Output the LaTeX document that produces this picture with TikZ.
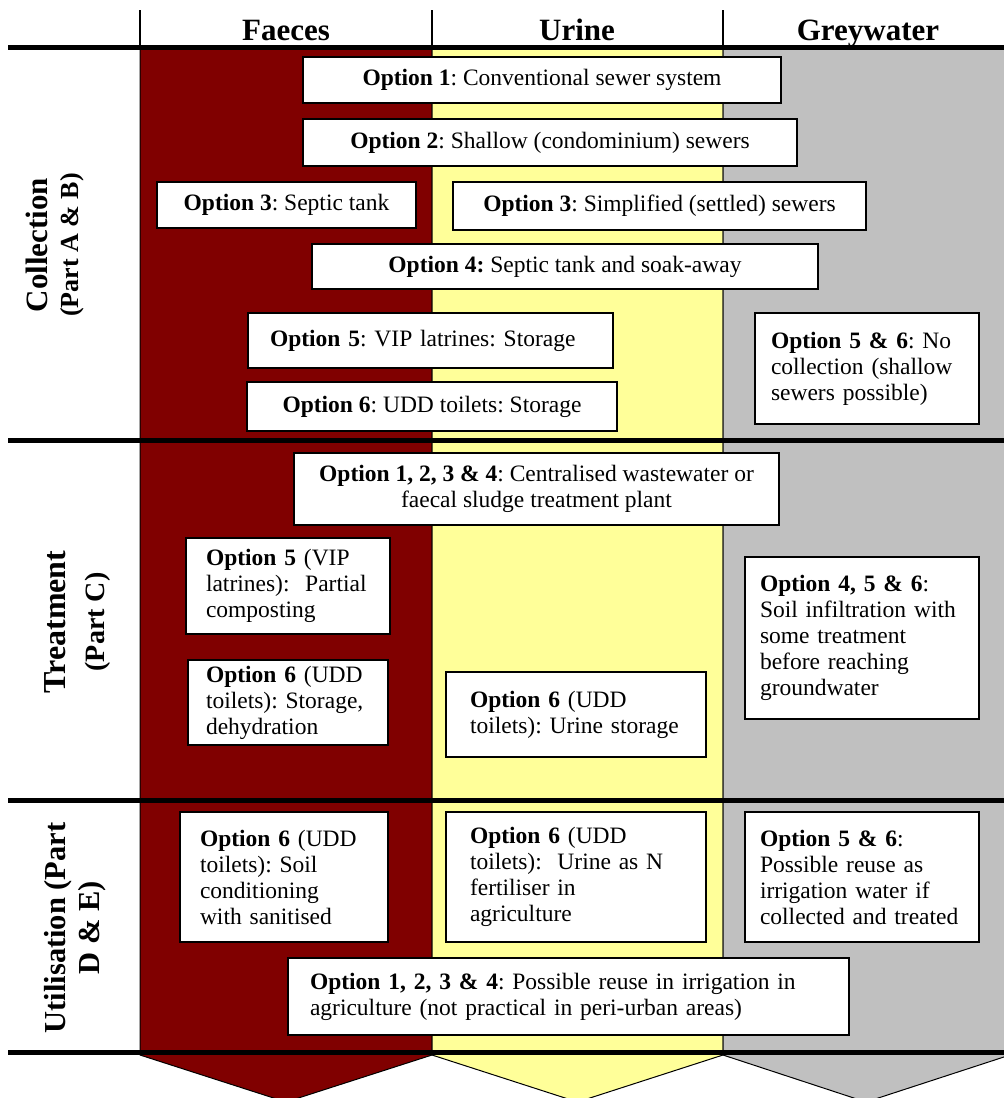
\documentclass[tikz,border=0pt]{standalone}
\usepackage{fontspec}
\setmainfont{Liberation Serif}
\usetikzlibrary{positioning}
\definecolor{faecol}{HTML}{800000}
\definecolor{urinecol}{HTML}{FFFF99}
\definecolor{greycol}{HTML}{C0C0C0}
\frenchspacing

\begin{document}
\begin{tikzpicture}[x=1pt,y=-1pt,
    optbox/.style={draw,line width=1.6pt,fill=white,inner sep=0pt,font=\fontsize{23.5}{26}\selectfont},
    lbox/.style={optbox,align=left},
    cbox/.style={optbox,align=center},
    stream/.style={draw=black,line width=1pt},
    sepline/.style={line width=5pt},
    head/.style={anchor=base,font=\fontsize{31}{34}\selectfont\bfseries},
    rowlab/.style={rotate=90,align=center}]
    \useasboundingbox (0,0) rectangle (1004,1098);
    \clip (0,0) rectangle (1004,1098);
    % streams
    \filldraw[stream,fill=faecol] (140,47) -- (432,47) -- (432,1055) -- (286,1102) -- (140,1055) -- cycle;
    \filldraw[stream,fill=urinecol] (432,47) -- (723,47) -- (723,1055) -- (577.5,1102) -- (432,1055) -- cycle;
    \filldraw[stream,fill=greycol] (723,47) -- (1010,47) -- (1010,1055) -- (866,1102) -- (723,1055) -- cycle;
    \draw[line width=1.3pt] (140,10) -- (140,47) (432,10) -- (432,47) (723,10) -- (723,47);
    \node[head] (hf) at (286,40) {Faeces};
    \node[head] (hu) at (577,40) {Urine};
    \node[head] (hg) at (868,40) {Greywater};
    % stage separators
    \foreach \y in {47,440,800,1052}
      \draw[sepline] (8,\y) -- (1004,\y);
    % row labels
    \node[rowlab,font=\fontsize{31}{31}\selectfont\bfseries] (rcol) at (55,245) {Collection\\{\fontsize{26}{31}\selectfont (Part A \& B)}};
    \node[rowlab,font=\fontsize{32}{39}\selectfont\bfseries] (rtrt) at (78,622) {Treatment\\{\fontsize{28}{39}\selectfont (Part C)}};
    \node[rowlab,font=\fontsize{30.5}{34}\selectfont\bfseries] (ruse) at (75,928) {Utilisation (Part\\D \& E)};
    % collection
    \node[cbox,minimum width=478pt,minimum height=46pt] (c1) at (542,80) {\textbf{Option 1}: Conventional sewer system};
    \node[cbox,minimum width=494pt,minimum height=47pt] (c2) at (550,142.5) {\textbf{Option 2}: Shallow (condominium) sewers};
    \node[cbox,minimum width=259pt,minimum height=46pt] (c3a) at (286.5,205) {\textbf{Option 3}: Septic tank};
    \node[cbox,minimum width=413pt,minimum height=48pt] (c3b) at (659.5,206) {\textbf{Option 3}: Simplified (settled) sewers};
    \node[cbox,minimum width=506pt,minimum height=45pt] (c4) at (565,266.5) {\textbf{Option 4:} Septic tank and soak-away};
    \node[lbox,minimum width=365pt,minimum height=55pt,text width=321pt] (c5) at (430.5,340.5) {\textbf{Option 5}: VIP latrines: Storage};
    \node[cbox,minimum width=370pt,minimum height=49pt] (c6) at (432,406.5) {\textbf{Option 6}: UDD toilets: Storage};
    \node[lbox,minimum width=224pt,minimum height=111pt,text width=192pt] (c56) at (867,368.5) {\textbf{Option 5 \& 6}: No\\collection (shallow\\sewers possible)};
    % treatment
    \node[cbox,minimum width=485pt,minimum height=72pt] (t1) at (536.5,489) {\textbf{Option 1, 2, 3 \& 4}: Centralised wastewater or\\faecal sludge treatment plant};
    \node[lbox,minimum width=204pt,minimum height=96pt,text width=164pt] (t5) at (288,586) {\textbf{Option 5} (VIP\\latrines):~ Partial\\composting};
    \node[lbox,minimum width=200pt,minimum height=85pt,text width=164pt] (t6) at (288,702.5) {\textbf{Option 6} (UDD\\toilets): Storage,\\dehydration};
    \node[lbox,minimum width=260pt,minimum height=85pt,text width=212pt] (t6u) at (576,714.5) {\textbf{Option 6} (UDD\\toilets): Urine storage};
    \node[lbox,minimum width=234pt,minimum height=162pt,text width=204pt] (t456) at (862,638) {\textbf{Option 4, 5 \& 6}:\\Soil infiltration with\\some treatment\\before reaching\\groundwater};
    % utilisation
    \node[lbox,minimum width=208pt,minimum height=130pt,text width=168pt] (u6f) at (284,877) {\textbf{Option 6} (UDD\\toilets): Soil\\conditioning\\with sanitised};
    \node[lbox,minimum width=260pt,minimum height=130pt,text width=212pt] (u6u) at (576,877) {\textbf{Option 6} (UDD\\toilets):~ Urine as N\\fertiliser in\\agriculture};
    \node[lbox,minimum width=234pt,minimum height=130pt,text width=204pt] (u56) at (862,877) {\textbf{Option 5 \& 6}:\\Possible reuse as\\irrigation water if\\collected and treated};
    \node[lbox,minimum width=561pt,minimum height=77pt,text width=517pt] (u1) at (568.5,996.5) {\textbf{Option 1, 2, 3 \& 4}: Possible reuse in irrigation in\\agriculture (not practical in peri-urban areas)};
  \end{tikzpicture}
\end{document}
